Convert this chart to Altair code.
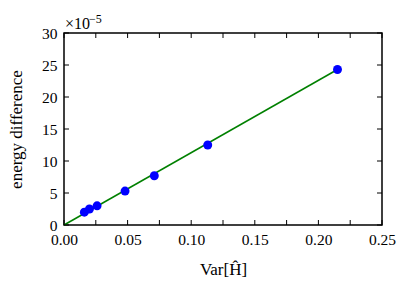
import altair as alt
import pandas as pd

var_h = [0.016, 0.020, 0.026, 0.048, 0.071, 0.113, 0.215]
energy_diff = [2.0, 2.5, 3.0, 5.3, 7.7, 12.5, 24.3]
fit_x = [0.0, 0.215]
fit_y = [0.0, 24.3]
x_ticks = [0.0, 0.025, 0.05, 0.075, 0.10, 0.125, 0.15, 0.175, 0.20, 0.225, 0.25]
x_labels = [0.0, 0.05, 0.10, 0.15, 0.20, 0.25]
y_ticks = [0, 5, 10, 15, 20, 25, 30]

W, H = 318, 192
FONT = "Liberation Serif"

pts = pd.DataFrame({"x": var_h, "y": energy_diff})
fit = pd.DataFrame({"x": fit_x, "y": fit_y})
xt = pd.DataFrame({"x": x_ticks})
yt = pd.DataFrame({"y": y_ticks})

xs = alt.Scale(domain=[0, 0.25], nice=False, zero=False)
ys = alt.Scale(domain=[0, 30], nice=False, zero=False)

xaxis = alt.Axis(values=x_labels, format=".2f", ticks=False, domain=False, grid=False,
                 labelFlush=False, labelOverlap=False,
                 labelFont=FONT, labelFontSize=15.5, labelColor="black", labelPadding=7,
                 title="Var[Ĥ]", titleFont=FONT, titleFontSize=17, titleFontWeight="normal",
                 titleColor="black", titlePadding=14)
yaxis = alt.Axis(values=y_ticks, format="d", ticks=False, domain=False, grid=False,
                 labelFlush=False, labelOverlap=False,
                 labelFont=FONT, labelFontSize=15.5, labelColor="black", labelPadding=7,
                 title="energy difference", titleFont=FONT, titleFontSize=17,
                 titleFontWeight="normal", titleColor="black", titlePadding=16)

X = lambda: alt.X("x:Q", scale=xs, axis=xaxis)
Y = lambda: alt.Y("y:Q", scale=ys, axis=yaxis)

line = alt.Chart(fit).mark_line(color="#008000", strokeWidth=1.5).encode(x=X(), y=Y())
points = alt.Chart(pts).mark_circle(color="#0000ff", opacity=1, size=80).encode(x=X(), y=Y())

tick_len = 5
xt_bottom = alt.Chart(xt).mark_rule(color="black", strokeWidth=1).encode(
    x=X(), y=alt.value(H), y2=alt.value(H - tick_len))
xt_top = alt.Chart(xt).mark_rule(color="black", strokeWidth=1).encode(
    x=X(), y=alt.value(0), y2=alt.value(tick_len))
yt_left = alt.Chart(yt).mark_rule(color="black", strokeWidth=1).encode(
    y=Y(), x=alt.value(0), x2=alt.value(tick_len))
yt_right = alt.Chart(yt).mark_rule(color="black", strokeWidth=1).encode(
    y=Y(), x=alt.value(W), x2=alt.value(W - tick_len))

mult = alt.Chart(pd.DataFrame({"t": ["×10"]})).mark_text(
    font=FONT, fontSize=16, align="left", baseline="alphabetic", color="black"
).encode(text="t:N", x=alt.value(1), y=alt.value(-4))
expo = alt.Chart(pd.DataFrame({"t": ["−5"]})).mark_text(
    font=FONT, fontSize=12, align="left", baseline="alphabetic", color="black"
).encode(text="t:N", x=alt.value(25), y=alt.value(-10))

chart = alt.layer(line, points, xt_bottom, xt_top, yt_left, yt_right, mult, expo).properties(
    width=W, height=H,
    padding={"left": 56, "top": 25, "right": 20, "bottom": 64},
    autosize=alt.AutoSizeParams(type="none"),
    background="white",
).configure_view(stroke="black", strokeWidth=1.5)

chart.save("out.html", embed_options={"renderer": "svg", "actions": False})
